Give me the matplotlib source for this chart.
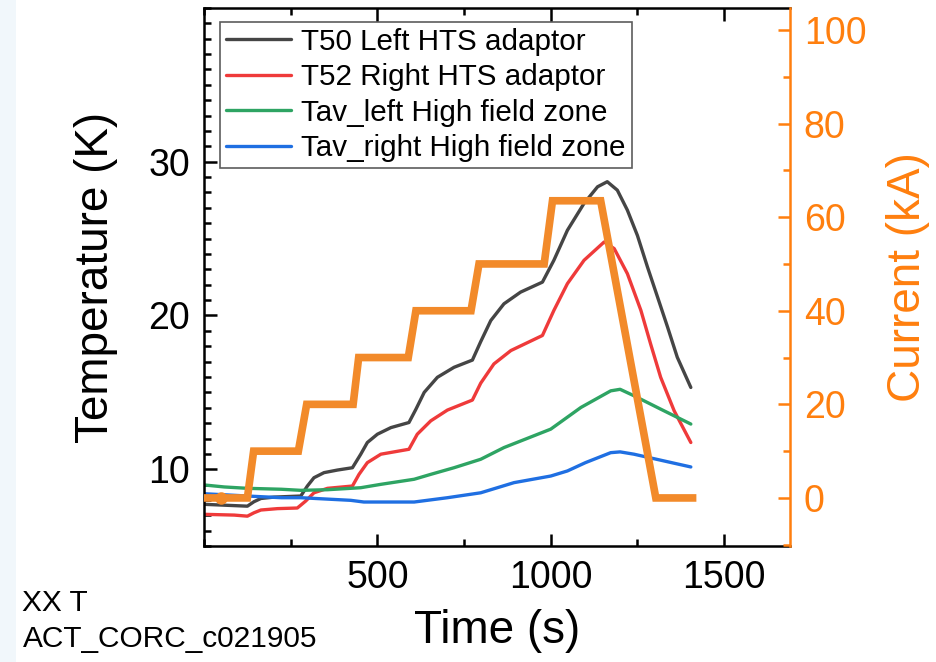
import matplotlib
matplotlib.use("Agg")
import matplotlib.pyplot as plt
from matplotlib.ticker import MultipleLocator
from matplotlib.patches import Rectangle

plt.rcParams['font.family'] = ['Liberation Sans', 'DejaVu Sans']

# ---- data ----
t_T50 = [0, 125, 144, 164, 202, 279, 298, 317, 346, 385, 428, 452, 471, 500, 539, 591,
         611, 635, 673, 721, 774, 798, 827, 865, 913, 976, 1009, 1048, 1096, 1135, 1163,
         1192, 1221, 1250, 1279, 1308, 1337, 1365, 1404]
T50 = [7.72, 7.6, 7.89, 8.1, 8.19, 8.26, 8.91, 9.45, 9.78, 9.95, 10.1, 10.98, 11.74, 12.28,
       12.71, 13.04, 13.9, 15.0, 15.98, 16.63, 17.1, 18.3, 19.67, 20.76, 21.52, 22.17, 23.59,
       25.54, 27.29, 28.37, 28.7, 28.15, 26.85, 25.2, 23.15, 21.2, 19.24, 17.28, 15.32]

t_T52 = [0, 87, 125, 144, 164, 212, 269, 293, 317, 356, 428, 447, 471, 510, 591, 615, 654,
         702, 774, 798, 836, 885, 976, 1009, 1048, 1096, 1154, 1183, 1221, 1260, 1288, 1317,
         1356, 1404]
T52 = [7.07, 7.02, 6.95, 7.17, 7.35, 7.44, 7.48, 7.93, 8.47, 8.76, 8.91, 9.67, 10.43, 10.98,
       11.3, 12.28, 13.15, 13.85, 14.5, 15.6, 16.85, 17.72, 18.7, 20.33, 22.07, 23.59, 24.78,
       24.35, 22.72, 20.33, 18.15, 15.98, 13.8, 11.74]

t_avl = [0, 58, 125, 223, 279, 356, 452, 510, 606, 654, 721, 798, 865, 1000, 1087, 1173,
         1200, 1240, 1317, 1404]
T_avl = [8.98, 8.85, 8.76, 8.7, 8.63, 8.67, 8.8, 9.02, 9.35, 9.67, 10.1, 10.65, 11.41, 12.61,
         14.02, 15.1, 15.2, 14.78, 13.91, 12.94]

t_avr = [0, 125, 223, 279, 423, 461, 606, 702, 798, 894, 1000, 1048, 1100, 1173, 1200, 1240,
         1317, 1404]
T_avr = [8.41, 8.26, 8.15, 8.15, 7.98, 7.87, 7.87, 8.15, 8.47, 9.13, 9.56, 9.89, 10.43, 11.08,
         11.13, 10.98, 10.59, 10.15]

t_I = [0, 125, 143, 272, 296, 430, 446, 589, 611, 770, 793, 981, 1005, 1144, 1303, 1409]
I_kA = [0, 0, 10, 10, 20, 20, 30, 30, 40, 40, 50, 50, 63.5, 63.5, 0, 0]
t_I_dot = [50]
I_dot = [0]

labels = ["T50 Left HTS adaptor", "T52 Right HTS adaptor",
          "Tav_left High field zone", "Tav_right High field zone"]
x_ticks = [500, 1000, 1500]
yl_ticks = [10, 20, 30]
yr_ticks = [0, 20, 40, 60, 80, 100]

# ---- styling ----
c_black = '#454545'
c_red = '#ef3a3a'
c_green = '#2ea463'
c_blue = '#1f6fe2'
c_orange = '#f28a2a'
c_axis_or = '#ff7f0e'

fig = plt.figure(figsize=(9.36, 6.62), dpi=100)
fig.patches.append(Rectangle((0, 0), 0.017, 1, transform=fig.transFigure,
                             facecolor='#f1f7fb', edgecolor='none', zorder=-10))

ax = fig.add_axes([0.218, 0.175, 0.626, 0.813])
lw = 2.4
kw = dict(lw=lw, solid_joinstyle='round', solid_capstyle='round')
ax.plot(t_T50, T50, color=c_black, label=labels[0], **kw)
ax.plot(t_T52, T52, color=c_red, label=labels[1], **kw)
ax.plot(t_avl, T_avl, color=c_green, label=labels[2], **kw)
ax.plot(t_avr, T_avr, color=c_blue, label=labels[3], **kw)

ax.set_xlim(0, 1690)
ax.set_ylim(5, 40)
ax.set_xticks(x_ticks)
ax.set_yticks(yl_ticks)
ax.xaxis.set_minor_locator(MultipleLocator(250))
ax.yaxis.set_minor_locator(MultipleLocator(1))
ax.tick_params(axis='both', which='major', direction='in', length=9, width=1.8,
               labelsize=27, top=True, right=False, pad=10)
ax.tick_params(axis='both', which='minor', direction='in', length=5, width=1.8,
               top=True, right=False)
for s in ['left', 'bottom', 'top']:
    ax.spines[s].set_linewidth(1.8)
    ax.spines[s].set_color('black')
ax.spines['right'].set_visible(False)

ax.set_xlabel("Time (s)", fontsize=33, labelpad=9)
ax.set_ylabel("Temperature (K)", fontsize=33, labelpad=22)

leg = ax.legend(loc='upper left', bbox_to_anchor=(0.027, 0.974), fontsize=21.3,
                frameon=True, fancybox=False, handlelength=2.2, handletextpad=0.35,
                borderpad=0.2, labelspacing=0.25, borderaxespad=0)
leg.get_frame().set_edgecolor('#333333')
leg.get_frame().set_linewidth(1.2)

ax2 = ax.twinx()
ax2.plot(t_I, I_kA, color=c_orange, lw=5.5, solid_joinstyle='miter')
ax2.plot(t_I_dot, I_dot, 'o', color=c_orange, ms=8)
ax2.set_ylim(-10.3, 104.7)
ax2.set_yticks(yr_ticks)
ax2.yaxis.set_minor_locator(MultipleLocator(10))
ax2.tick_params(axis='y', which='major', direction='in', length=9, width=1.8,
                labelsize=27, colors=c_axis_or, pad=10)
ax2.tick_params(axis='y', which='minor', direction='in', length=5, width=1.8,
                colors=c_axis_or)
ax2.spines['right'].set_color(c_axis_or)
ax2.spines['right'].set_linewidth(1.8)
for s in ['left', 'bottom', 'top']:
    ax2.spines[s].set_visible(False)
ax2.set_ylabel("Current (kA)", fontsize=33, color=c_axis_or, labelpad=14)

fig.text(0.024, 0.077, "XX T", fontsize=21.5, ha='left', va='baseline')
fig.text(0.024, 0.022, "ACT_CORC_c021905", fontsize=21.5, ha='left', va='baseline')

fig.savefig("out.png", dpi=100)
